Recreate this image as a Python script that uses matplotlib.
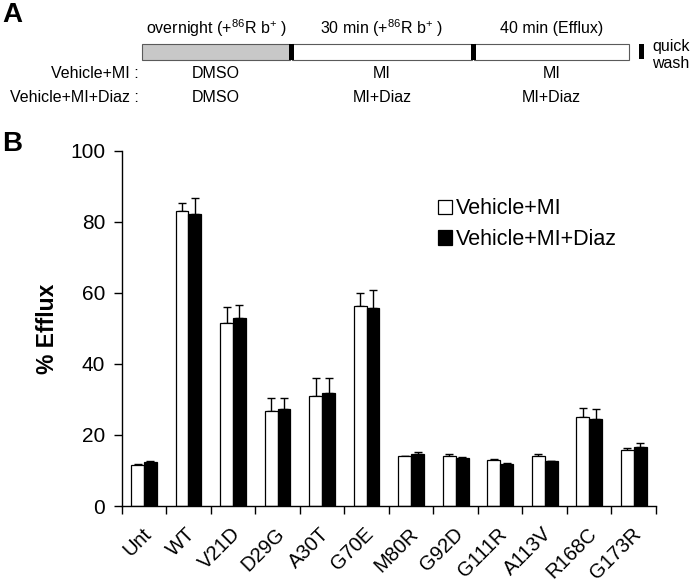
import numpy as np
import matplotlib
matplotlib.use('Agg')
import matplotlib.pyplot as plt
from matplotlib.patches import Rectangle
import matplotlib.transforms as mtransforms

plt.rcParams['font.family'] = ['Liberation Sans', 'DejaVu Sans']
plt.rcParams['mathtext.fontset'] = 'custom'
plt.rcParams['mathtext.rm'] = 'Liberation Sans'
plt.rcParams['mathtext.it'] = 'Liberation Sans:italic'

# panel B data
categories = ['Unt', 'WT', 'V21D', 'D29G', 'A30T', 'G70E', 'M80R',
              'G92D', 'G111R', 'A113V', 'R168C', 'G173R']
vehicle_mi = [11.5, 83.0, 51.4, 26.8, 31.1, 56.3, 14.0, 14.1, 13.0, 14.1, 25.0, 15.8]
vehicle_mi_err = [0.2, 2.4, 4.7, 3.5, 5.0, 3.7, 0.2, 0.5, 0.1, 0.6, 2.7, 0.5]
vehicle_mi_diaz = [12.3, 82.3, 52.8, 27.4, 31.7, 55.8, 14.5, 13.6, 11.9, 12.7, 24.5, 16.7]
vehicle_mi_diaz_err = [0.3, 4.4, 3.9, 3.1, 4.3, 5.0, 0.8, 0.3, 0.1, 0.1, 2.7, 1.1]
series_names = ['Vehicle+MI', 'Vehicle+MI+Diaz']
yticks = [0, 20, 40, 60, 80, 100]

# panel A text
phase_titles = ['overnight (+$^{86}$R b$^{+}$ )', '30 min (+$^{86}$R b$^{+}$ )', '40 min (Efflux)']
row_names = ['Vehicle+MI :', 'Vehicle+MI+Diaz :']
row_treatments = [['DMSO', 'MI', 'MI'],
                  ['DMSO', 'MI+Diaz', 'MI+Diaz']]

W, H = 693, 582
fig = plt.figure(figsize=(W / 100, H / 100), dpi=100)

# ---- panel B: bar chart ----
ax = fig.add_axes([121.7 / W, 1 - 506 / H, (656 - 121.7) / W, (506 - 150.7) / H])
x = np.arange(len(categories))
bw = 0.29
ax.bar(x - bw / 2, vehicle_mi, bw, color='white', edgecolor='black', linewidth=0.9,
       label=series_names[0], zorder=2)
ax.bar(x + bw / 2, vehicle_mi_diaz, bw, color='black', edgecolor='black', linewidth=0.9,
       label=series_names[1], zorder=2)
ax.errorbar(x - bw / 2, vehicle_mi, yerr=[np.zeros(len(x)), vehicle_mi_err], fmt='none',
            ecolor='black', elinewidth=1.0, capsize=2.6, capthick=1.0, zorder=1)
ax.errorbar(x + bw / 2, vehicle_mi_diaz, yerr=[np.zeros(len(x)), vehicle_mi_diaz_err], fmt='none',
            ecolor='black', elinewidth=1.0, capsize=2.6, capthick=1.0, zorder=1)

ax.set_xlim(-0.5, len(categories) - 0.5)
ax.set_ylim(0, 100)
ax.set_yticks(yticks)
ax.tick_params(axis='y', labelsize=15, length=6, width=1, pad=6)
ax.set_xticks(x)
ax.set_xticks(np.arange(len(categories) + 1) - 0.5, minor=True)
ax.tick_params(axis='x', which='major', length=0, pad=18)
ax.tick_params(axis='x', which='minor', length=6, width=1)
ax.set_xticklabels(categories, rotation=45, ha='right', va='center',
                   rotation_mode='anchor', fontsize=14.5)
shift = mtransforms.ScaledTranslation(3 / 72, 0, fig.dpi_scale_trans)
for lab in ax.get_xticklabels():
    lab.set_transform(lab.get_transform() + shift)
ax.spines['top'].set_visible(False)
ax.spines['right'].set_visible(False)
ax.spines['left'].set_linewidth(1)
ax.spines['bottom'].set_linewidth(1)
ax.set_ylabel('% Efflux', fontsize=16.5, fontweight='bold', labelpad=8)

ax.legend(loc='upper left', bbox_to_anchor=(0.575, 0.89), frameon=False, fontsize=15.5,
          handlelength=0.65, handleheight=0.65, handletextpad=0.2, labelspacing=0.45,
          borderaxespad=0)

# ---- panel A: timeline scheme (pixel coordinates) ----
top = fig.add_axes([0, 0, 1, 1], facecolor='none')
top.set_xlim(0, W)
top.set_ylim(H, 0)
top.axis('off')

seg_edges = [(142, 290), (292, 472), (474, 629)]
seg_fill = ['#c8c8c8', 'white', 'white']
for (x0, x1), fc in zip(seg_edges, seg_fill):
    top.add_patch(Rectangle((x0, 44), x1 - x0, 16, facecolor=fc, edgecolor='#5a5a5a', linewidth=0.8))
for xd in [289, 471]:
    top.add_patch(Rectangle((xd, 44), 4.5, 16, facecolor='black', edgecolor='none'))
top.add_patch(Rectangle((639, 44), 5, 15, facecolor='black', edgecolor='none'))
top.text(652, 47, 'quick', fontsize=11.5, ha='left', va='center')
top.text(652, 64, 'wash', fontsize=11.5, ha='left', va='center')

for (x0, x1), title in zip(seg_edges, phase_titles):
    top.text((x0 + x1) / 2, 28, title, fontsize=11.5, ha='center', va='center')
for ry, name, treat in zip([74, 97], row_names, row_treatments):
    top.text(139, ry, name, fontsize=11.5, ha='right', va='center')
    for (x0, x1), t in zip(seg_edges, treat):
        top.text((x0 + x1) / 2, ry, t, fontsize=11.5, ha='center', va='center')

top.text(2, 15, 'A', fontsize=20, fontweight='bold', ha='left', va='center')
top.text(2, 144, 'B', fontsize=20, fontweight='bold', ha='left', va='center')

fig.savefig('out.png', dpi=100)
